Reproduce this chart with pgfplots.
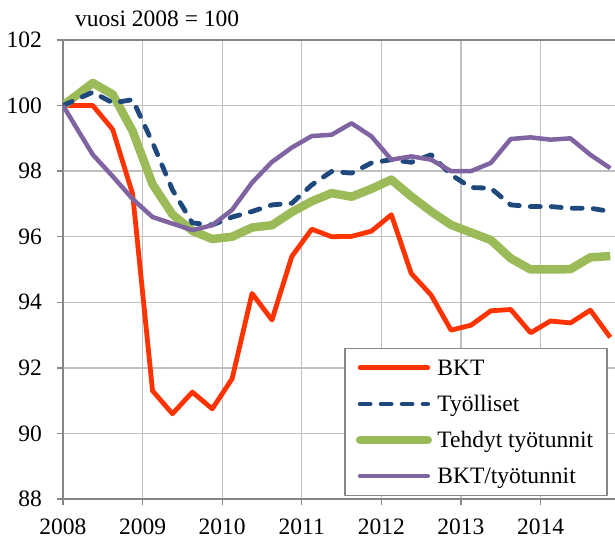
\documentclass[border=0pt]{standalone}
\usepackage{fontspec}
\setmainfont{Liberation Serif}
\usepackage{pgfplots}
\pgfplotsset{compat=1.18}
\usepackage{pgfplotstable}

\definecolor{cbkt}{HTML}{FF3300}
\definecolor{ctyo}{HTML}{1F497D}
\definecolor{cteh}{HTML}{9BBB59}
\definecolor{cbtt}{HTML}{8064A2}
\definecolor{gridgray}{HTML}{C0C0C0}
\definecolor{axgray}{HTML}{868686}

\pgfplotstableread{
x bkt tyo teh btt
2008.000 100.00 100.00 100.00 100.00
2008.375 100.00 100.41 100.69 98.50
2008.625 99.27 100.08 100.34 97.84
2008.875 97.30 100.18 99.22 97.15
2009.125 91.30 98.87 97.60 96.60
2009.375 90.60 97.43 96.68 96.40
2009.625 91.26 96.42 96.18 96.20
2009.875 90.75 96.36 95.93 96.35
2010.125 91.67 96.60 96.00 96.82
2010.375 94.27 96.77 96.28 97.65
2010.625 93.46 96.97 96.35 98.28
2010.875 95.40 97.02 96.75 98.72
2011.125 96.23 97.58 97.08 99.07
2011.375 96.00 97.99 97.33 99.11
2011.625 96.01 97.94 97.22 99.46
2011.875 96.17 98.25 97.46 99.06
2012.125 96.67 98.35 97.74 98.35
2012.375 94.88 98.27 97.23 98.45
2012.625 94.22 98.50 96.77 98.35
2012.875 93.15 97.89 96.36 98.00
2013.125 93.30 97.50 96.13 98.00
2013.375 93.74 97.48 95.90 98.25
2013.625 93.78 96.97 95.34 98.98
2013.875 93.07 96.92 95.00 99.03
2014.125 93.43 96.92 95.00 98.96
2014.375 93.37 96.87 95.01 99.00
2014.625 93.76 96.87 95.37 98.50
2014.875 92.93 96.77 95.41 98.09
}\datatable

\begin{document}
\fontsize{23.5pt}{28pt}\selectfont
\begin{tikzpicture}[font=\fontsize{23.5pt}{28pt}\selectfont]
\begin{axis}[
  scale only axis, width=552pt, height=459pt,
  xmin=2008, xmax=2014.935, ymin=88, ymax=102,
  xtick={2008,2009,...,2014}, ytick={88,90,...,102},
  /pgf/number format/assume math mode=true,
  /pgf/number format/1000 sep={},
  grid=major, major grid style={color=gridgray, line width=1.3pt},
  axis x line*=bottom, axis y line*=left,
  axis line style={draw=axgray, line width=1.6pt, -},
  tick align=outside, major tick length=6pt,
  tick style={draw=axgray, line width=1.3pt},
  yticklabel style={xshift=-7pt},
  xticklabel style={yshift=-5.5pt},
  line join=round,
  legend cell align=left,
  legend style={at={(1,0)}, anchor=south east, xshift=-7.3pt, yshift=3pt,
    draw=axgray, line width=1.3pt, fill=white,
    inner xsep=11pt, inner ysep=5.5pt, row sep=8.6pt, column sep=2.4pt,
    nodes={inner sep=3pt, text height=18pt, text depth=3.5pt}},
  legend image code/.code={\draw[#1] (0pt,0pt) -- (67.6pt,0pt);},
]
\coordinate (bl) at (rel axis cs:0,0);
\coordinate (tl) at (rel axis cs:0,1);
\addlegendimage{cbkt, line width=4.8pt, line cap=round}
\addlegendimage{ctyo, line width=4.8pt, line cap=round, dash pattern=on 10pt off 11pt}
\addlegendimage{cteh, line width=8.5pt, line cap=round}
\addlegendimage{cbtt, line width=4.5pt, line cap=round}
\legend{BKT, Työlliset, Tehdyt työtunnit, BKT/työtunnit}
\addplot[forget plot, cbkt, line width=4.8pt] table[x=x, y=bkt] {\datatable};
\addplot[forget plot, cteh, line width=8.5pt] table[x=x, y=teh] {\datatable};
\addplot[forget plot, ctyo, line width=4.8pt, line cap=round, dash pattern=on 10pt off 11pt] table[x=x, y=tyo] {\datatable};
\addplot[forget plot, cbtt, line width=4.5pt] table[x=x, y=btt] {\datatable};
\end{axis}
\draw[axgray, line width=1.6pt] (tl) -- ++(552pt,0pt);
\node[anchor=base west, inner sep=0pt] at ([xshift=12pt, yshift=13pt]tl) {vuosi 2008 = 100};
\pgfresetboundingbox
\path[use as bounding box] (bl) ++(-63pt,-39pt) rectangle ++(615pt,538pt);
\end{tikzpicture}
\end{document}
